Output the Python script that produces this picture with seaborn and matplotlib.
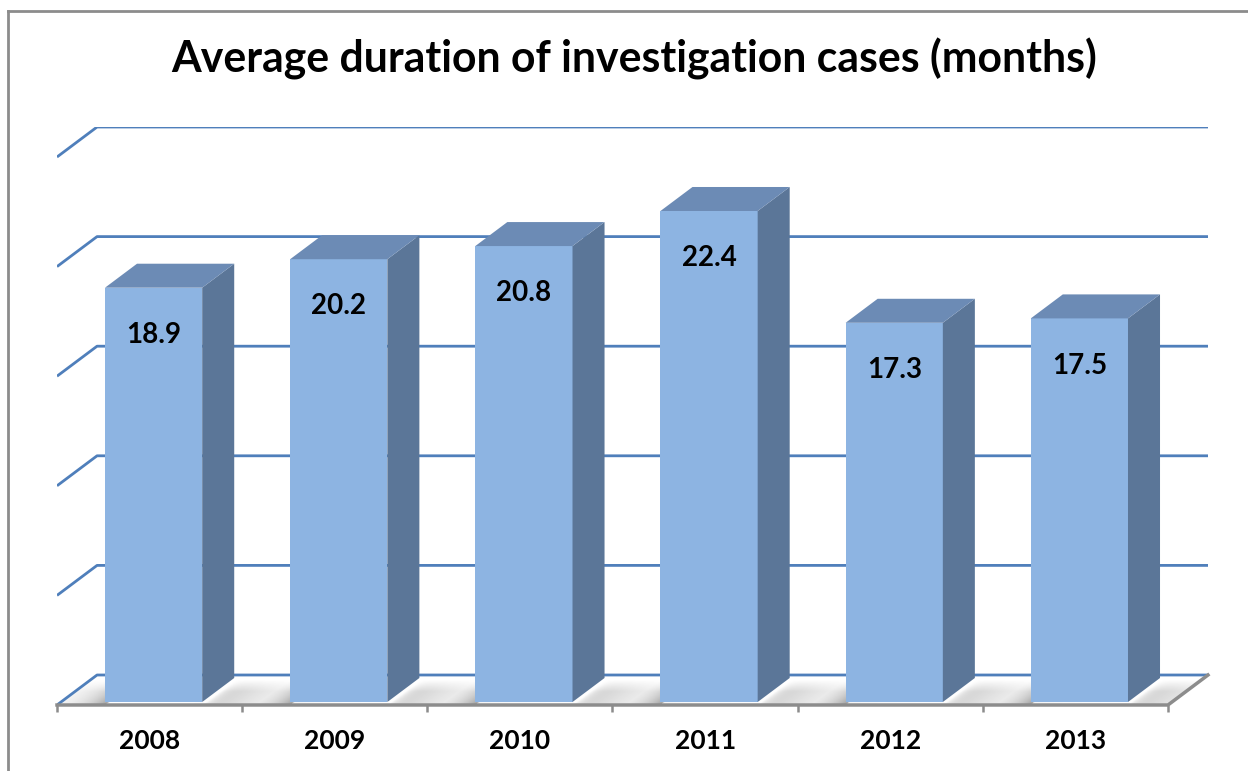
import numpy as np
import matplotlib
matplotlib.use("Agg")
import matplotlib.pyplot as plt
from matplotlib.patches import Polygon
from matplotlib.lines import Line2D
from matplotlib.transforms import Affine2D
import seaborn as sns

# ---- data ----
years = ["2008", "2009", "2010", "2011", "2012", "2013"]
values = [18.9, 20.2, 20.8, 22.4, 17.3, 17.5]
grid_values = [0, 5, 10, 15, 20, 25]
title = "Average duration of investigation cases (months)"

# ---- style ----
FRONT = "#8DB4E2"
SIDE = "#5B7698"
TOP = "#6C8BB5"
GRID = "#4F7FBB"
GRAYLINE = "#8C8C8C"
FONT = ["Lato", "DejaVu Sans"]

W, H = 1248, 771
fig = plt.figure(figsize=(W / 100, H / 100), dpi=100)
fig.patch.set_facecolor("white")

# axes: floor front edge at px y=705 from x=57..1167, back wall top at y=127
ax_l, ax_r, ax_b, ax_t = 57, 1208, 705, 127
ax = fig.add_axes([ax_l / W, (H - ax_b) / H, (ax_r - ax_l) / W, (ax_b - ax_t) / H])

# depth of the 3D box in data units
DX = 40 / 185.0
DY = 30 / 21.92
t0, t1 = 0.1, 0.9  # bar front / back depth fractions

sns.barplot(x=years, y=values, width=0.525, color=FRONT, saturation=1,
            ax=ax, zorder=3, edgecolor="none")

# gridlines on back wall + left wall diagonals
for g in grid_values:
    ax.plot([-0.5, -0.5 + DX, 5.5 + DX], [g, g + DY, g + DY], color=GRID,
            lw=2, zorder=2, solid_capstyle="butt")

# floor front / right edges
ax.plot([-0.5, 5.5, 5.5 + DX], [0, 0, DY], color=GRAYLINE, lw=2.5, zorder=2.5,
        clip_on=False)

# floor shadows (image, sheared coordinate)
nx, ny = 1400, 60
xs = np.linspace(-0.5, 5.5 + DX, nx)
ys = np.linspace(0, DY, ny)
XX, YY = np.meshgrid(xs, ys)
T = YY / DY
U = XX - T * DX
alpha = np.zeros_like(U)
bars = list(ax.patches)
for p in bars:
    L = p.get_x() + t0 * DX
    R = L + p.get_width()
    left = np.where(U < L, 0.65 * np.exp(-(L - U) / 0.12), 0)
    right = np.where(U > R, 0.45 * np.exp(-(U - R) / 0.25) * (1 - np.exp(-(U - R) / 0.05)), 0)
    alpha = np.maximum(alpha, np.maximum(left, right))
depthf = np.clip((0.85 - T) / 0.4, 0, 1)
alpha = alpha * depthf
inside = (U >= -0.5) & (U <= 5.5)
alpha = np.where(inside, alpha, 0)
img = np.zeros((ny, nx, 4))
img[..., :3] = 0.42
img[..., 3] = alpha
ax.imshow(img, extent=(-0.5, 5.5 + DX, 0, DY), origin="lower", aspect="auto",
          zorder=1.5, interpolation="bilinear")

# 3D faces for each bar
ddx, ddy = (t1 - t0) * DX, (t1 - t0) * DY
ox, oy = t0 * DX, t0 * DY
for p, v in zip(bars, values):
    p.set_transform(Affine2D().translate(ox, oy) + ax.transData)
    x0 = p.get_x() + ox
    w = p.get_width()
    h = p.get_height()
    y0 = oy
    xr = x0 + w
    side = Polygon([(xr, y0), (xr + ddx, y0 + ddy), (xr + ddx, y0 + h + ddy), (xr, y0 + h)],
                   closed=True, facecolor=SIDE, edgecolor="none", zorder=3)
    top = Polygon([(x0, y0 + h), (xr, y0 + h), (xr + ddx, y0 + h + ddy), (x0 + ddx, y0 + h + ddy)],
                  closed=True, facecolor=TOP, edgecolor="none", zorder=3)
    ax.add_patch(side)
    ax.add_patch(top)
    ax.text(x0 + w / 2, y0 + h - 2.15, f"{v}", ha="center", va="center",
            fontsize=20, fontweight="bold", family=FONT, color="black", zorder=5)

ax.set_xlim(-0.5, 5.5 + DX)
ax.set_ylim(0, 25 + DY)
for s in ax.spines.values():
    s.set_visible(False)
ax.set_yticks([])
ax.set_xlabel("")
ax.set_ylabel("")
ax.set_xticks(range(len(years)))
ax.set_xticklabels(years, fontsize=19, fontweight="bold", family=FONT)
ax.tick_params(axis="x", which="major", length=0, pad=17)
ax.set_xticks(np.arange(-0.5, 6.0, 1.0), minor=True)
ax.tick_params(axis="x", which="minor", length=5, width=1.8, color=GRAYLINE)
ax.set_facecolor("none")

# title fitted to reference width
tt = fig.text(634 / W, 1 - 73 / H, title, ha="center", va="baseline",
              fontsize=28, fontweight="bold", family=FONT)
fig.canvas.draw()
bb = tt.get_window_extent()
tt.set_fontsize(28 * 925 / bb.width)

# chart border
fig.add_artist(Line2D([8 / W, 8 / W], [0, 1 - 11 / H], color=GRAYLINE, lw=2))
fig.add_artist(Line2D([8 / W, 1], [1 - 11 / H, 1 - 11 / H], color=GRAYLINE, lw=2))

fig.savefig("out.png", dpi=100)
